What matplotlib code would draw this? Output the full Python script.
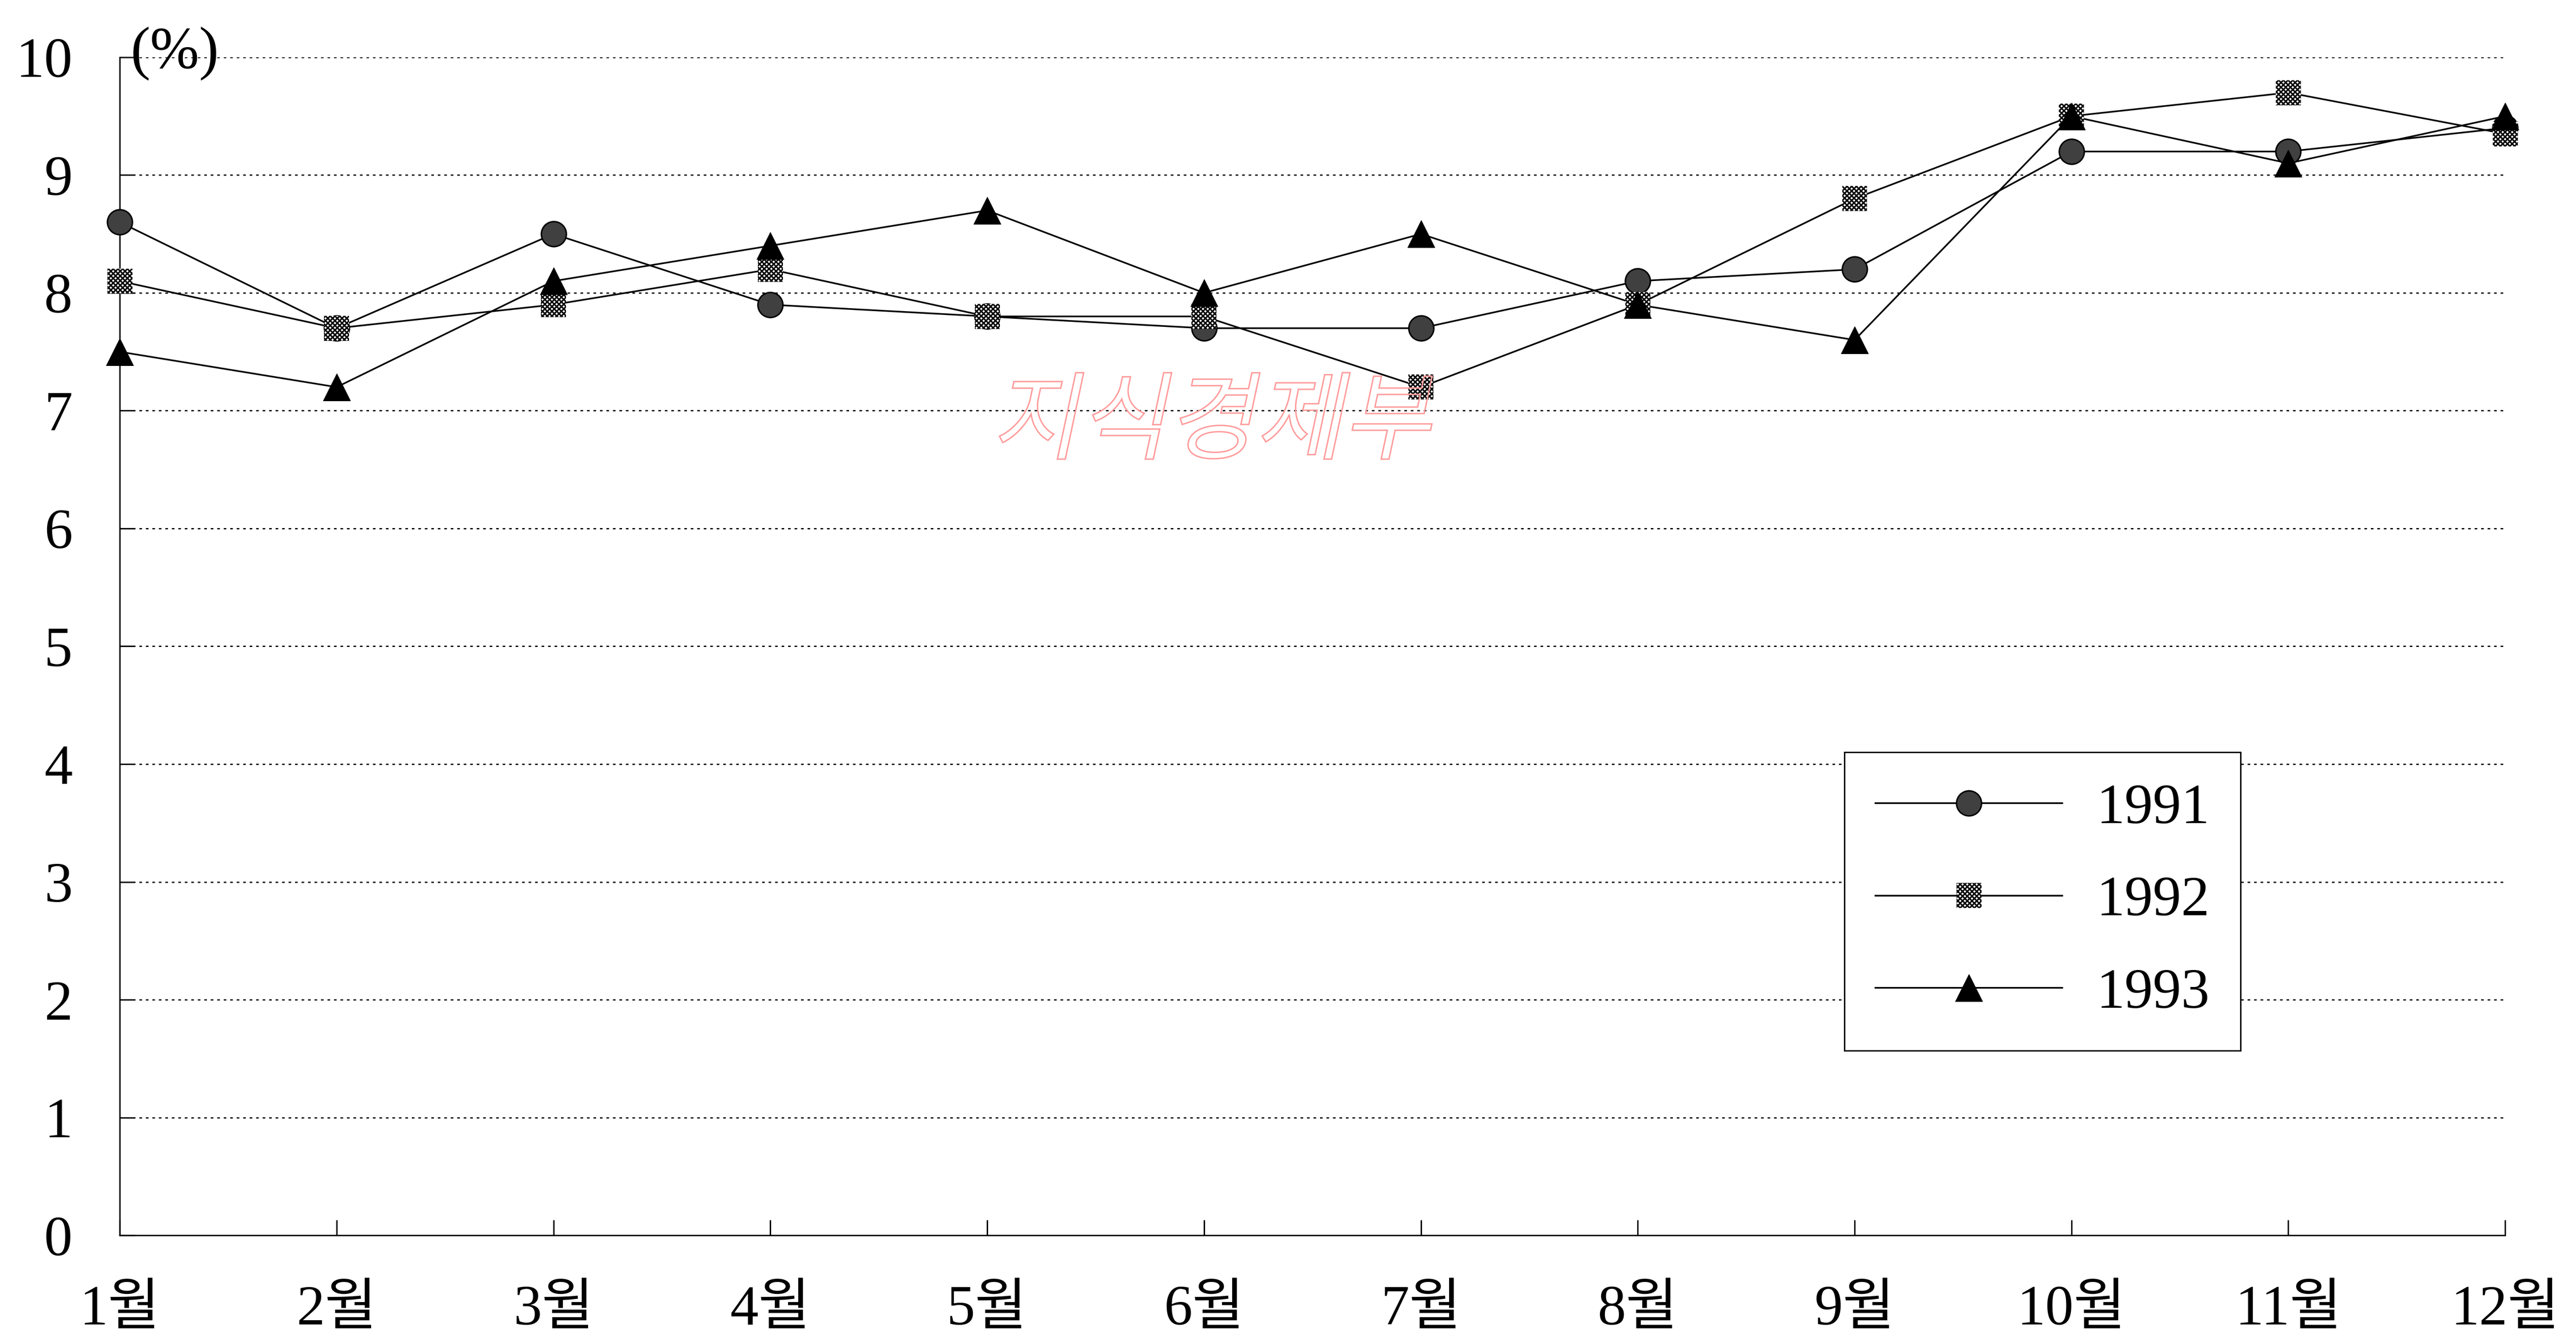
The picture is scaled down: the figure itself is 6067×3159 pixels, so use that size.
import matplotlib
matplotlib.use('Agg')
import matplotlib.pyplot as plt
from matplotlib.legend_handler import HandlerTuple
from matplotlib.textpath import TextPath
from matplotlib.patches import PathPatch
from matplotlib.font_manager import FontProperties
from matplotlib.transforms import Affine2D

months = ['1월', '2월', '3월', '4월', '5월', '6월', '7월', '8월', '9월', '10월', '11월', '12월']
years = ['1991', '1992', '1993']
rate_1991 = [8.6, 7.7, 8.5, 7.9, 7.8, 7.7, 7.7, 8.1, 8.2, 9.2, 9.2, 9.4]
rate_1992 = [8.1, 7.7, 7.9, 8.2, 7.8, 7.8, 7.2, 7.9, 8.8, 9.5, 9.7, 9.35]
rate_1993 = [7.5, 7.2, 8.1, 8.4, 8.7, 8.0, 8.5, 7.9, 7.6, 9.5, 9.1, 9.5]
y_ticks = [0, 1, 2, 3, 4, 5, 6, 7, 8, 9, 10]

plt.rcParams['font.family'] = ['Liberation Serif', 'Noto Sans CJK KR']
plt.rcParams['hatch.linewidth'] = 2.5
FS = 96

fig = plt.figure(figsize=(60.67, 31.59), dpi=100)
ax = fig.add_axes([0.0465, 0.0788, 0.926, 0.8785])

x = list(range(len(months)))
series = [rate_1991, rate_1992, rate_1993]
marker_style = [
    dict(marker='o', s=1800, facecolor='0.25', edgecolor='black', linewidths=2.5),
    dict(marker='s', s=1800, facecolor='white', edgecolor='black', linewidths=0, hatch='xxx'),
    dict(marker='^', s=2100, facecolor='black', edgecolor='black', linewidths=1),
]

handles = []
for vals, ms in zip(series, marker_style):
    ln, = ax.plot(x, vals, color='black', lw=2.8, zorder=2, clip_on=False)
    sc = ax.scatter(x, vals, zorder=3, clip_on=False, **ms)
    handles.append((ln, sc))

ax.set_xlim(0, 11)
ax.set_ylim(0, 10)
ax.set_xticks(x)
ax.set_xticklabels(months)
ax.set_yticks(y_ticks)

for y in y_ticks[1:]:
    ax.axhline(y, color='black', lw=2.2, linestyle=(0, (2, 3)), zorder=1)

for side in ['top', 'right']:
    ax.spines[side].set_visible(False)
for side in ['left', 'bottom']:
    ax.spines[side].set_linewidth(2.4)

ax.tick_params(axis='y', direction='in', length=26, width=2.4, pad=80, labelsize=FS)
ax.tick_params(axis='x', direction='in', length=26, width=2.4, pad=84, labelsize=FS)

fig.text(0.0508, 0.960, '(%)', fontsize=100, ha='left', va='center')

leg = ax.legend(handles, years, handler_map={tuple: HandlerTuple(ndivide=1)},
                scatterpoints=1, scatteryoffsets=[0.5],
                loc='upper left', bbox_to_anchor=(0.723, 0.410), borderaxespad=0,
                fontsize=FS, handlelength=3.3, handletextpad=0.6,
                labelspacing=0.72, borderpad=0.55,
                fancybox=False, framealpha=1, edgecolor='black')
leg.get_frame().set_linewidth(2.4)

# outlined slanted stamp text in the middle of the plot
wm = TextPath((0, 0), '지식경제부', size=2.25, prop=FontProperties(family='Noto Sans CJK KR'))
wm_tr = Affine2D().skew_deg(12, 0).translate(23.35, 20.95) + fig.dpi_scale_trans
fig.add_artist(PathPatch(wm, transform=wm_tr, facecolor='none', edgecolor='#ff9c9c', lw=2.4, zorder=10))

fig.savefig('out.png', dpi=100, facecolor='white')
